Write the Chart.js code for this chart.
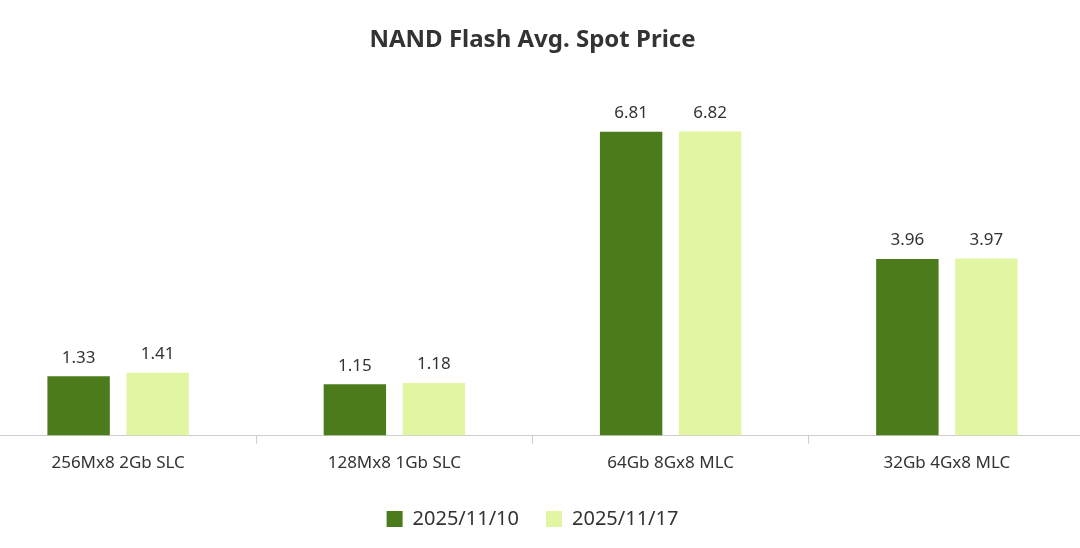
<!DOCTYPE html>
<html><head><meta charset="utf-8">
<script src="https://cdn.jsdelivr.net/npm/chart.js@4"></script>
<style>html,body{margin:0;padding:0;background:#fff;overflow:hidden}
#w{position:absolute;left:-20px;top:0;width:1105px;height:548px}</style>
</head><body><div id="w"><canvas id="c"></canvas></div>
<script>
const categories=["256Mx8 2Gb SLC","128Mx8 1Gb SLC","64Gb 8Gx8 MLC","32Gb 4Gx8 MLC"];
const seriesNames=["2025/11/10","2025/11/17"];
const values1110=[1.33,1.15,6.81,3.96];
const values1117=[1.41,1.18,6.82,3.97];
const labelPlugin={id:'lbl',afterDatasetsDraw(ch){const c=ch.ctx;c.save();c.font='17px "Noto Sans"';c.fillStyle='#333';c.textAlign='center';c.textBaseline='bottom';
ch.data.datasets.forEach((d,i)=>{ch.getDatasetMeta(i).data.forEach((b,j)=>{c.fillText(d.data[j].toFixed(2),b.x,b.y-10);});});c.restore();}};
new Chart(document.getElementById('c'),{type:'bar',
data:{labels:categories,datasets:[
{label:seriesNames[0],data:values1110,backgroundColor:'#4b7b1a'},
{label:seriesNames[1],data:values1117,backgroundColor:'#e2f5a2'}]},
options:{responsive:true,maintainAspectRatio:false,animation:false,
categoryPercentage:0.572,barPercentage:0.79,
layout:{padding:{top:16,bottom:9}},
plugins:{title:{display:true,text:'NAND Flash Avg. Spot Price',color:'#333',font:{family:'"Noto Sans"',size:24,weight:'bold'},padding:{top:10,bottom:24}},
legend:{position:'bottom',labels:{color:'#333',boxWidth:16,boxHeight:16,padding:27,font:{family:'"Noto Sans"',size:20}}},tooltip:{enabled:false}},
scales:{y:{display:false,min:0,max:8},
x:{grid:{offset:true,drawOnChartArea:false,color:'#ccc',tickLength:8},border:{color:'#ccc'},ticks:{color:'#333',font:{family:'"Noto Sans"',size:17},padding:9}}}},
plugins:[labelPlugin]});
</script></body></html>
